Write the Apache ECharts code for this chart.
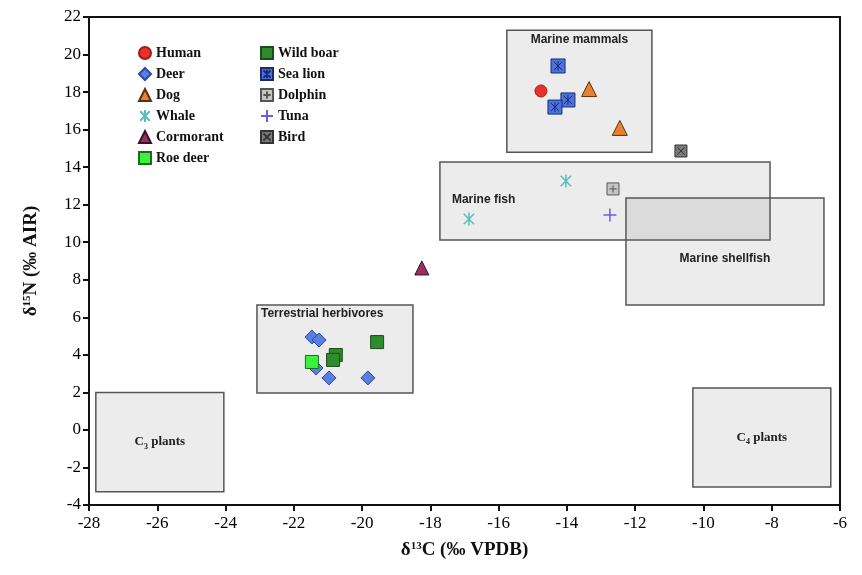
<!DOCTYPE html>
<html>
<head>
    <meta charset="utf-8">
    <title>ECharts</title>
    <script src="https://cdn.jsdelivr.net/npm/echarts@6/dist/echarts.min.js"></script>
</head>
<body style="margin:0">
<div id="main" style="width:862px; height:575px;"></div>
<script type="text/javascript">
    // axis ticks
    var xTicks = [-28, -26, -24, -22, -20, -18, -16, -14, -12, -10, -8, -6];
    var yTicks = [-4, -2, 0, 2, 4, 6, 8, 10, 12, 14, 16, 18, 20, 22];

    // reference boxes: [name, xmin, xmax, ymin, ymax]
    var boxes = [
        ['Marine mammals', -15.76, -11.51, 14.8, 21.3],
        ['Marine fish', -17.72, -8.05, 10.12, 14.27],
        ['Marine shellfish', -12.27, -6.47, 6.66, 12.36],
        ['Terrestrial herbivores', -23.08, -18.51, 1.97, 6.66],
        ['C3 plants', -27.8, -24.05, -3.3, 2.0],
        ['C4 plants', -10.31, -6.27, -3.04, 2.23]
    ];

    // samples (d13C, d15N)
    var human = [[-14.76, 18.06]];
    var deer = [[-21.47, 4.95], [-21.26, 4.79], [-21.35, 3.3], [-20.97, 2.77], [-19.83, 2.77]];
    var dog = [[-13.35, 18.16], [-12.45, 16.09]];
    var whale = [[-14.03, 13.26], [-16.87, 11.24]];
    var cormorant = [[-18.25, 8.63]];
    var roeDeer = [[-21.47, 3.62]];
    var wildBoar = [[-19.56, 4.68], [-20.77, 3.99], [-20.85, 3.73]];
    var seaLion = [[-14.26, 19.39], [-13.97, 17.58], [-14.35, 17.2]];
    var dolphin = [[-12.65, 12.84]];
    var tuna = [[-12.74, 11.45]];
    var bird = [[-10.66, 14.86]];

    var legendLeft = ['Human', 'Deer', 'Dog', 'Whale', 'Cormorant', 'Roe deer'];
    var legendRight = ['Wild boar', 'Sea lion', 'Dolphin', 'Tuna', 'Bird'];

    var serif = '"Liberation Serif", "DejaVu Serif", serif';
    var sans = '"Liberation Sans", Arial, sans-serif';

    var myChart = echarts.init(document.getElementById('main'));

    function renderBox(params, api) {
        var b = boxes[params.dataIndex];
        var p1 = api.coord([b[1], b[4]]);
        var p2 = api.coord([b[2], b[3]]);
        var w = p2[0] - p1[0], h = p2[1] - p1[1];
        var name = b[0];
        var tx = p1[0] + w / 2, ty = p1[1] + h / 2, align = 'center', vAlign = 'middle';
        var text = name, rich = {}, font = sans, size = 12;
        if (name === 'Marine mammals') { ty = p1[1] + 10; }
        else if (name === 'Terrestrial herbivores') { tx = p1[0] + 4; ty = p1[1] + 9; align = 'left'; }
        else if (name === 'Marine fish') { tx = p1[0] + 12; ty = p1[1] + h / 2 - 1; align = 'left'; }
        else if (name === 'Marine shellfish') { ty = p1[1] + h / 2 + 7; }
        else {
            var sub = name.charAt(1);
            text = '{a|C}{s|' + sub + '}{a| plants}';
            rich = {
                a: {fontFamily: serif, fontWeight: 'bold', fontSize: 13, fill: '#222', verticalAlign: 'bottom'},
                s: {fontFamily: serif, fontWeight: 'bold', fontSize: 8, fill: '#222', verticalAlign: 'bottom', padding: [0, 0, -2, 0]}
            };
        }
        return {
            type: 'group',
            children: [{
                type: 'rect',
                shape: {x: p1[0], y: p1[1], width: w, height: h},
                style: {fill: 'rgba(120,120,120,0.14)', stroke: '#555', lineWidth: 1.5}
            }, {
                type: 'text',
                x: tx, y: ty,
                style: {
                    text: text, rich: rich, align: align, verticalAlign: vAlign,
                    font: 'bold ' + size + 'px ' + font, fill: '#222'
                }
            }]
        };
    }

    function scatter(name, data, symbol, size, color, border, bw) {
        return {
            name: name,
            type: 'scatter',
            data: data,
            symbol: symbol,
            symbolSize: size,
            symbolKeepAspect: true,
            z: 5,
            itemStyle: {color: color, borderColor: border, borderWidth: bw, opacity: 1}
        };
    }

    var starPath = 'path://M5,0L5,10M1,1L9,9M9,1L1,9';
    var plusPath = 'path://M5,0L5,10M0,5L10,5';
    var seaLionPath = 'path://M0,0L10,0L10,10L0,10ZM5,1.5L5,8.5M2,2L8,8M8,2L2,8';
    var dolphinPath = 'path://M0,0L10,0L10,10L0,10ZM5,2L5,8M2,5L8,5';
    var birdPath = 'path://M0,0L10,0L10,10L0,10ZM2,2L8,8M8,2L2,8';

    var legendText = {fontFamily: serif, fontWeight: 'bold', fontSize: 14, color: '#111', lineHeight: 14};

    option = {
        animation: false,
        backgroundColor: '#fff',
        grid: {left: 89, right: 22, top: 17, bottom: 70, show: true, borderColor: '#111', borderWidth: 2},
        legend: [{
            data: legendLeft, orient: 'vertical', left: 133, top: 41,
            itemWidth: 12, itemHeight: 12, itemGap: 7, textStyle: legendText, selectedMode: false
        }, {
            data: legendRight, orient: 'vertical', left: 255, top: 41,
            itemWidth: 12, itemHeight: 12, itemGap: 7, textStyle: legendText, selectedMode: false
        }],
        xAxis: {
            type: 'value', min: xTicks[0], max: xTicks[xTicks.length - 1], interval: 2,
            splitLine: {show: false},
            axisLine: {onZero: false, lineStyle: {color: '#111', width: 2}},
            axisTick: {show: true, length: 6, lineStyle: {color: '#111', width: 2}},
            axisLabel: {fontFamily: serif, fontSize: 17, color: '#000', margin: 10},
            name: '{d|δ}{sup|13}{d|C (‰ VPDB)}',
            nameLocation: 'middle', nameGap: 36,
            nameTextStyle: {
                rich: {
                    d: {fontFamily: serif, fontWeight: 'bold', fontSize: 19, color: '#111', verticalAlign: 'bottom'},
                    sup: {fontFamily: serif, fontWeight: 'bold', fontSize: 11, color: '#111', verticalAlign: 'top'}
                }
            }
        },
        yAxis: {
            type: 'value', min: yTicks[0], max: yTicks[yTicks.length - 1], interval: 2,
            splitLine: {show: false},
            axisLine: {onZero: false, lineStyle: {color: '#111', width: 2}},
            axisTick: {show: true, length: 6, lineStyle: {color: '#111', width: 2}},
            axisLabel: {fontFamily: serif, fontSize: 17, color: '#000', margin: 8},
            name: '{d|δ}{sup|15}{d|N (‰ AIR)}',
            nameLocation: 'middle', nameGap: 48, nameRotate: 90,
            nameTextStyle: {
                rich: {
                    d: {fontFamily: serif, fontWeight: 'bold', fontSize: 19, color: '#111', verticalAlign: 'bottom'},
                    sup: {fontFamily: serif, fontWeight: 'bold', fontSize: 11, color: '#111', verticalAlign: 'top'}
                }
            }
        },
        series: [
            {
                type: 'custom',
                name: 'boxes',
                z: 1,
                silent: true,
                renderItem: renderBox,
                data: boxes.map(function (b) { return [b[1], b[3], b[2], b[4]]; }),
                encode: {x: [0, 2], y: [1, 3]}
            },
            scatter('Human', human, 'circle', 12, '#e8312f', '#9a1f1a', 1),
            scatter('Deer', deer, 'diamond', 14, '#5a7fe0', '#2b4aa8', 1),
            scatter('Dog', dog, 'triangle', 15, '#e8822e', '#5a3010', 1),
            scatter('Whale', whale, starPath, 13, 'rgba(0,0,0,0)', '#5cbcbc', 1.5),
            scatter('Cormorant', cormorant, 'triangle', 14, '#9b2f62', '#3a1024', 1),
            scatter('Roe deer', roeDeer, 'rect', 13, '#3ef03e', '#1a6e1a', 1),
            scatter('Wild boar', wildBoar, 'rect', 13, '#2e8b2e', '#1a4d1a', 1),
            scatter('Sea lion', seaLion, seaLionPath, 14, '#4a73e0', '#1a2a6e', 1),
            scatter('Dolphin', dolphin, dolphinPath, 12, '#c4c4c4', '#555', 1),
            scatter('Tuna', tuna, plusPath, 13, 'rgba(0,0,0,0)', '#6a5cf0', 1.5),
            scatter('Bird', bird, birdPath, 12, '#7a7a7a', '#333', 1)
        ]
    };
    myChart.setOption(option);
</script>
</body>
</html>
